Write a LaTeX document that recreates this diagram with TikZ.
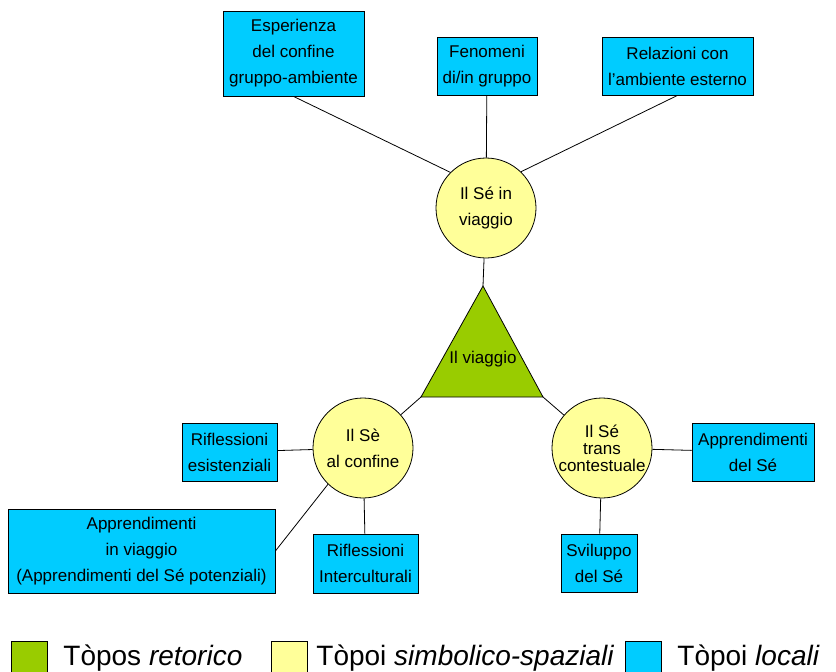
\documentclass[tikz,border=0pt]{standalone}
\usepackage{fontspec}
\setmainfont{Liberation Sans}
\definecolor{verde}{RGB}{153,204,0}
\definecolor{giallo}{RGB}{255,255,153}
\definecolor{azzurro}{RGB}{0,204,255}
\def\foo{\fontsize{17}{26}\selectfont}
\def\foobig{\fontsize{28}{30}\selectfont}

\begin{document}
\begin{tikzpicture}[x=1pt,y=-1pt,line width=0.8pt,every text node part/.style={align=center},
  box/.style={draw,fill=azzurro,inner sep=0pt,font=\foo},
  ball/.style={draw,circle,fill=giallo,minimum size=100pt,inner sep=0pt,font=\foo},
  legend/.style={draw,minimum size=36pt,inner sep=0pt,anchor=north west}]
  \clip (0,0) rectangle (836,672);

  \coordinate (a) at (483,286);
  \coordinate (b) at (543,397);
  \coordinate (c) at (421,397);
  \draw[fill=verde] (a) -- (b) -- (c) -- cycle;
  \node[font=\foo] (0) at (483,359) {Il viaggio};

  \node[ball] (1) at (486,208) {Il Sé in\\viaggio};
  \node[ball] (2) at (363,448) {Il Sè\\al confine};
  \node[ball,font=\fontsize{17}{17}\selectfont] (3) at (602,448) {Il Sé\\trans\\contestuale};

  \node[box,minimum width=141pt,minimum height=85pt] (4) at (293.5,53.5) {Esperienza\\del confine\\gruppo-ambiente};
  \node[box,minimum width=100pt,minimum height=58pt] (5) at (487,66) {Fenomeni\\di/in gruppo};
  \node[box,minimum width=151pt,minimum height=58pt] (6) at (677.5,66) {Relazioni con\\l’ambiente esterno};
  \node[box,minimum width=122pt,minimum height=58pt] (7) at (753,452) {Apprendimenti\\del Sé};
  \node[box,minimum width=76pt,minimum height=58pt] (8) at (599,563) {Sviluppo\\del Sé};
  \node[box,minimum width=95pt,minimum height=58pt] (9) at (229.5,452) {Riflessioni\\esistenziali};
  \node[box,minimum width=267pt,minimum height=84pt] (10) at (141.5,551) {Apprendimenti\\in viaggio\\(Apprendimenti del Sé potenziali)};
  \node[box,minimum width=105pt,minimum height=59pt] (11) at (365.5,563.5) {Riflessioni\\Interculturali};

  \draw (a) -- (1);
  \draw (c) -- (2);
  \draw (b) -- (3);
  \draw (4.south) -- (1.135);
  \draw (5) -- (1);
  \draw (6.south) -- (1.46);
  \draw (3) -- (7);
  \draw (3) -- (8);
  \draw (2) -- (9);
  \draw (2.226) -- (10.east);
  \draw (2) -- (11);

  % legenda
  \node[legend,fill=verde] (12) at (11,641) {};
  \node[legend,fill=giallo] (13) at (271,641) {};
  \node[legend,fill=azzurro] (14) at (625,641) {};
  \node[anchor=base west,inner sep=0pt,font=\foobig] (15) at (63,665) {Tòpos \textit{retorico}};
  \node[anchor=base west,inner sep=0pt,font=\foobig] (16) at (316,665) {Tòpoi \textit{simbolico-spaziali}};
  \node[anchor=base west,inner sep=0pt,font=\foobig] (17) at (677,665) {Tòpoi \textit{locali}};
\end{tikzpicture}
\end{document}
